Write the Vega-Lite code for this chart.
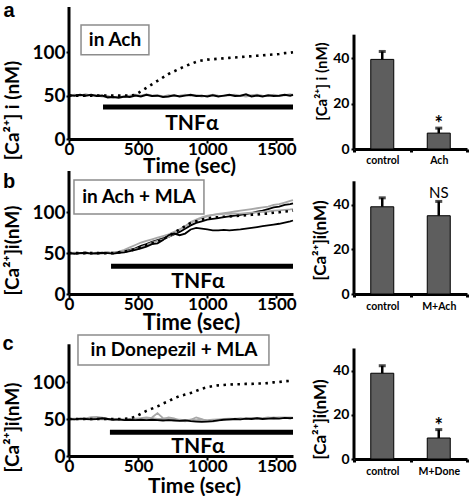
{
  "$schema": "https://vega.github.io/schema/vega-lite/v6.json",
  "background": "white",
  "padding": {"left": 2, "top": 0, "right": 0, "bottom": 0},
  "config": {
    "font": "Lato",
    "view": {"stroke": null},
    "axis": {"grid": false, "labelFont": "Lato", "titleFont": "Lato", "labelFontWeight": "bold", "titleFontWeight": "bold", "labelColor": "black", "titleColor": "black", "tickColor": "black", "domainColor": "black", "labelOverlap": false, "labelFlush": false},
    "text": {"font": "Lato", "fontWeight": "bold", "color": "black"}
  },
  "datasets": {
    "ta": [
      {"t":0,"gr":49.5,"bk":50.5,"dot":50},{"t":40,"gr":51,"bk":50,"dot":50},{"t":80,"gr":50,"bk":51,"dot":50},{"t":120,"gr":51.5,"bk":50,"dot":50},{"t":160,"gr":50,"bk":51,"dot":50},{"t":200,"gr":50.5,"bk":49.5,"dot":50},{"t":240,"gr":49,"bk":50,"dot":50},{"t":280,"gr":49.5,"bk":48,"dot":50},{"t":320,"gr":48,"bk":48.5,"dot":50},{"t":360,"gr":49,"bk":47.5,"dot":50},{"t":400,"gr":48.5,"bk":49,"dot":50},{"t":440,"gr":50,"bk":48.5,"dot":50},{"t":480,"gr":51,"bk":50,"dot":51},{"t":520,"gr":50,"bk":49,"dot":55},{"t":560,"gr":51.5,"bk":51,"dot":59},{"t":600,"gr":50,"bk":49.5,"dot":63},{"t":640,"gr":50.5,"bk":50,"dot":67},{"t":680,"gr":49,"bk":48.5,"dot":71},{"t":720,"gr":50.5,"bk":49,"dot":75},{"t":760,"gr":49.5,"bk":50.5,"dot":78},{"t":800,"gr":50,"bk":49,"dot":81},{"t":840,"gr":51,"bk":50,"dot":84},{"t":880,"gr":50,"bk":51,"dot":86.5},{"t":920,"gr":50.5,"bk":49.5,"dot":89},{"t":960,"gr":49,"bk":50,"dot":90.5},{"t":1000,"gr":50,"bk":49,"dot":91.5},{"t":1040,"gr":51,"bk":50.5,"dot":92},{"t":1080,"gr":50,"bk":49,"dot":92.5},{"t":1120,"gr":49.5,"bk":50,"dot":93},{"t":1160,"gr":50.5,"bk":51,"dot":93.5},{"t":1200,"gr":51,"bk":49.5,"dot":94},{"t":1240,"gr":50,"bk":50,"dot":94.5},{"t":1280,"gr":49,"bk":51.5,"dot":95},{"t":1320,"gr":50.5,"bk":49,"dot":95.5},{"t":1360,"gr":51,"bk":50,"dot":96},{"t":1400,"gr":50,"bk":49,"dot":96.5},{"t":1440,"gr":49.5,"bk":50.5,"dot":97},{"t":1480,"gr":51,"bk":49.5,"dot":97.5},{"t":1520,"gr":50,"bk":50,"dot":98},{"t":1560,"gr":50.5,"bk":51,"dot":99},{"t":1600,"gr":51.5,"bk":50,"dot":99.5},{"t":1620,"gr":50.5,"bk":51,"dot":100}
    ],
    "tb": [
      {"t":0,"lg":50,"mg":50,"dg":50,"bk":50,"dot":50},{"t":40,"lg":50.5,"mg":49.5,"dg":50,"bk":49.5,"dot":50},{"t":80,"lg":50,"mg":50,"dg":49.5,"bk":50,"dot":50},{"t":120,"lg":49.5,"mg":50.5,"dg":50,"bk":50.5,"dot":50},{"t":160,"lg":50,"mg":50,"dg":50.5,"bk":49.5,"dot":50},{"t":200,"lg":50.5,"mg":49.5,"dg":50,"bk":50,"dot":50},{"t":240,"lg":50,"mg":50,"dg":49.5,"bk":50.5,"dot":50},{"t":280,"lg":50.5,"mg":50.5,"dg":50,"bk":50,"dot":50},{"t":320,"lg":51,"mg":50,"dg":50.5,"bk":49.5,"dot":50},{"t":360,"lg":52,"mg":51,"dg":51,"bk":50.5,"dot":51},{"t":400,"lg":54,"mg":52,"dg":52,"bk":51,"dot":52},{"t":440,"lg":57,"mg":54,"dg":53.5,"bk":52.5,"dot":53},{"t":480,"lg":60,"mg":56,"dg":55,"bk":54,"dot":55},{"t":520,"lg":63,"mg":59,"dg":57,"bk":56,"dot":57},{"t":560,"lg":65,"mg":61,"dg":60,"bk":58,"dot":60},{"t":600,"lg":67,"mg":64,"dg":63,"bk":61,"dot":62},{"t":640,"lg":69,"mg":66,"dg":65,"bk":62,"dot":64},{"t":680,"lg":71,"mg":68,"dg":67,"bk":66,"dot":67},{"t":720,"lg":73,"mg":70,"dg":70,"bk":72,"dot":71},{"t":760,"lg":76,"mg":73,"dg":74,"bk":74,"dot":75},{"t":800,"lg":79,"mg":76,"dg":79,"bk":72,"dot":79},{"t":840,"lg":83,"mg":80,"dg":83,"bk":74,"dot":83},{"t":880,"lg":87,"mg":84,"dg":88,"bk":79,"dot":87},{"t":920,"lg":90,"mg":87,"dg":91,"bk":81,"dot":89},{"t":960,"lg":93,"mg":89,"dg":94,"bk":80,"dot":91},{"t":1000,"lg":95,"mg":91,"dg":96,"bk":79,"dot":92.5},{"t":1040,"lg":97,"mg":92,"dg":97,"bk":78,"dot":93.5},{"t":1080,"lg":98,"mg":93,"dg":97.5,"bk":78,"dot":94},{"t":1120,"lg":99,"mg":94,"dg":98,"bk":78.5,"dot":94.5},{"t":1160,"lg":100,"mg":95,"dg":98,"bk":78,"dot":95},{"t":1200,"lg":101,"mg":96,"dg":98.5,"bk":78.5,"dot":95.5},{"t":1240,"lg":102,"mg":97,"dg":98.5,"bk":79,"dot":96},{"t":1280,"lg":103,"mg":98,"dg":99,"bk":80,"dot":96.5},{"t":1320,"lg":104,"mg":99,"dg":99.5,"bk":81,"dot":97},{"t":1360,"lg":105,"mg":101,"dg":100,"bk":82,"dot":97.5},{"t":1400,"lg":106,"mg":102,"dg":100.5,"bk":83,"dot":98},{"t":1440,"lg":107,"mg":104,"dg":101,"bk":84,"dot":98.5},{"t":1480,"lg":109,"mg":106,"dg":102,"bk":85,"dot":99.5},{"t":1520,"lg":110,"mg":107,"dg":102.5,"bk":86,"dot":100},{"t":1560,"lg":112,"mg":109,"dg":103,"bk":87.5,"dot":101},{"t":1600,"lg":114,"mg":110,"dg":103.5,"bk":89,"dot":101.5},{"t":1620,"lg":115,"mg":111,"dg":104,"bk":90,"dot":102}
    ],
    "tc": [
      {"t":0,"lg":50,"dg":49.5,"bk":50,"dot":50},{"t":40,"lg":50.5,"dg":50,"bk":49.5,"dot":50},{"t":80,"lg":50,"dg":49.5,"bk":50.5,"dot":50},{"t":120,"lg":51,"dg":50,"bk":50,"dot":50},{"t":160,"lg":52.5,"dg":50.5,"bk":49.5,"dot":50},{"t":200,"lg":53,"dg":50,"bk":50,"dot":50},{"t":240,"lg":52,"dg":49.5,"bk":51,"dot":50},{"t":280,"lg":50.5,"dg":50,"bk":50,"dot":50},{"t":320,"lg":50,"dg":49.5,"bk":49,"dot":50},{"t":360,"lg":49.5,"dg":49,"bk":49.5,"dot":50},{"t":400,"lg":49,"dg":49.5,"bk":48.5,"dot":50},{"t":440,"lg":50,"dg":50,"bk":49,"dot":51},{"t":480,"lg":50.5,"dg":49.5,"bk":48.5,"dot":53},{"t":520,"lg":51,"dg":50.5,"bk":49,"dot":57},{"t":560,"lg":52,"dg":51,"bk":48.5,"dot":61},{"t":600,"lg":51,"dg":52,"bk":49,"dot":64},{"t":640,"lg":50,"dg":58,"bk":48.5,"dot":67},{"t":680,"lg":50,"dg":51,"bk":48,"dot":71},{"t":720,"lg":52,"dg":50,"bk":48.5,"dot":74},{"t":760,"lg":51,"dg":49.5,"bk":48,"dot":78},{"t":800,"lg":48,"dg":49,"bk":47.5,"dot":81},{"t":840,"lg":47,"dg":48.5,"bk":48,"dot":83},{"t":880,"lg":49,"dg":49,"bk":47,"dot":85},{"t":920,"lg":52,"dg":48.5,"bk":46.5,"dot":88},{"t":960,"lg":50,"dg":49,"bk":46,"dot":91},{"t":1000,"lg":47,"dg":48.5,"bk":46.5,"dot":93},{"t":1040,"lg":46.5,"dg":49,"bk":47,"dot":94.5},{"t":1080,"lg":48,"dg":49.5,"bk":48,"dot":95.5},{"t":1120,"lg":50,"dg":50,"bk":49,"dot":96},{"t":1160,"lg":49,"dg":50.5,"bk":49.5,"dot":96.5},{"t":1200,"lg":50.5,"dg":50,"bk":50,"dot":97},{"t":1240,"lg":49.5,"dg":51,"bk":49.5,"dot":97},{"t":1280,"lg":51,"dg":50,"bk":50.5,"dot":97.5},{"t":1320,"lg":50,"dg":51.5,"bk":50,"dot":97.5},{"t":1360,"lg":51.5,"dg":50.5,"bk":51,"dot":98},{"t":1400,"lg":50.5,"dg":51,"bk":50,"dot":98},{"t":1440,"lg":51,"dg":52,"bk":50.5,"dot":98.5},{"t":1480,"lg":52,"dg":51,"bk":51,"dot":99.5},{"t":1520,"lg":51.5,"dg":52,"bk":50.5,"dot":100},{"t":1560,"lg":52,"dg":51.5,"bk":51.5,"dot":101},{"t":1600,"lg":51.5,"dg":52,"bk":51,"dot":101.5},{"t":1620,"lg":52,"dg":51.5,"bk":51.5,"dot":102}
    ],
    "bars": [
      {"p":"a","g":"control","m":39.5,"e":43,"sig":""},
      {"p":"a","g":"Ach","m":7,"e":9.2,"sig":"*"},
      {"p":"b","g":"control","m":39,"e":43,"sig":""},
      {"p":"b","g":"M+Ach","m":35,"e":41.4,"sig":"NS"},
      {"p":"c","g":"control","m":38.8,"e":42.2,"sig":""},
      {"p":"c","g":"M+Done","m":9.5,"e":13.3,"sig":"*"}
    ]
  },
  "concat": [
    {
      "width": 224, "height": 132,
      "layer": [
        {"data": {"values": [{}]}, "mark": {"type": "rect", "fill": "white", "stroke": "#8c8c8c", "strokeWidth": 1.5},
         "encoding": {"x": {"datum": 87, "type": "quantitative", "scale": {"domain": [0, 1620], "nice": false, "zero": false}}, "x2": {"datum": 578}, "y": {"datum": 131.5, "type": "quantitative", "scale": {"domain": [0, 152.2], "nice": false}}, "y2": {"datum": 97}}},
        {"data": {"name": "ta"}, "transform": [{"fold": ["gr", "bk"], "as": ["s", "v"]}],
         "mark": {"type": "line", "strokeWidth": 2},
         "encoding": {
           "x": {"field": "t", "type": "quantitative", "scale": {"domain": [0, 1620], "nice": false, "zero": false},
                 "axis": {"title": "Time (sec)", "values": [0, 500, 1000, 1500], "format": "d", "labelFontSize": 17, "titleFontSize": 21, "domainWidth": 3, "tickWidth": 2, "tickSize": 4, "labelPadding": -2, "titleX": 120, "titleY": 27, "titleBaseline": "middle"}},
           "y": {"field": "v", "type": "quantitative", "scale": {"domain": [0, 152.2], "nice": false},
                 "axis": {"title": "[Ca²⁺] i (nM)", "values": [0, 50, 100], "labelFontSize": 19, "titleFontSize": 19, "domain": false, "tickWidth": 2, "tickSize": 3, "labelPadding": 1, "titleX": -47, "titleY": 103}},
           "color": {"field": "s", "type": "nominal", "legend": null, "scale": {"domain": ["gr", "bk"], "range": ["#a8a8a8", "#000000"]}}
         }},
        {"data": {"name": "ta"}, "mark": {"type": "line", "strokeWidth": 2.6, "strokeDash": [2.5, 4.5], "color": "black"},
         "encoding": {"x": {"field": "t", "type": "quantitative"}, "y": {"field": "dot", "type": "quantitative"}}},
        {"data": {"values": [{}]}, "mark": {"type": "rule", "strokeWidth": 3, "color": "black"},
         "encoding": {"x": {"datum": 0}, "y": {"datum": 0}, "y2": {"datum": 152.2}}},
        {"data": {"values": [{}]}, "mark": {"type": "rule", "strokeWidth": 5, "color": "black"},
         "encoding": {"x": {"datum": 246}, "x2": {"datum": 1620}, "y": {"datum": 37}}},
        {"data": {"values": [{}]}, "mark": {"type": "text", "fontSize": 21},
         "encoding": {"x": {"datum": 889}, "y": {"datum": 17}, "text": {"value": "TNFα"}}},
        {"data": {"values": [{}]}, "mark": {"type": "text", "fontSize": 19},
         "encoding": {"x": {"datum": 333}, "y": {"datum": 114}, "text": {"value": "in Ach"}}},
        {"data": {"values": [{}]}, "mark": {"type": "text", "fontSize": 20, "font": "Liberation Sans"},
         "encoding": {"x": {"datum": -434}, "y": {"datum": 147.6}, "text": {"value": "a"}}}
      ]
    },
    {
      "width": 113, "height": 142,
      "data": {"name": "bars"},
      "transform": [{"filter": "datum.p == 'a'"}],
      "layer": [
        {"mark": {"type": "bar", "size": 23, "fill": "#5e5e5e", "stroke": "black", "strokeWidth": 1},
         "encoding": {
           "x": {"field": "g", "type": "nominal", "scale": {"domain": ["control", "Ach"], "paddingInner": 0, "paddingOuter": 0},
                 "axis": {"title": null, "labelAngle": 0, "labelFontSize": 10.5, "domainWidth": 3, "tickBand": "extent", "tickSize": 3, "tickWidth": 3, "labelPadding": 3}},
           "y": {"field": "m", "type": "quantitative", "scale": {"domain": [0, 62.6], "nice": false},
                 "axis": {"title": "[Ca²⁺] i (nM)", "values": [0, 10, 20, 30, 40], "labelExpr": "datum.value % 20 == 0 ? datum.label : ''", "labelFontSize": 14, "titleFontSize": 15, "domain": false, "tickSize": 3, "tickWidth": 2, "labelPadding": 2, "titleX": -25, "titleY": 74}}
         }},
        {"mark": {"type": "rule", "strokeWidth": 2.5, "color": "black"},
         "encoding": {"x": {"field": "g", "type": "nominal"}, "y": {"field": "m", "type": "quantitative"}, "y2": {"field": "e"}}},
        {"mark": {"type": "tick", "size": 7, "thickness": 3, "color": "black"},
         "encoding": {"x": {"field": "g", "type": "nominal"}, "y": {"field": "e", "type": "quantitative"}}},
        {"mark": {"type": "text", "fontSize": 20, "baseline": "middle", "dy": -3},
         "encoding": {"x": {"field": "g", "type": "nominal"}, "y": {"field": "e", "type": "quantitative"}, "text": {"field": "sig"}}},
        {"data": {"values": [{}]}, "mark": {"type": "rule", "strokeWidth": 3, "color": "black"},
         "encoding": {"x": {"datum": "control", "type": "nominal", "bandPosition": 0}, "y": {"datum": 0, "type": "quantitative"}, "y2": {"datum": 50.4}}}
      ]
    },
    {
      "width": 224, "height": 123,
      "layer": [
        {"data": {"values": [{}]}, "mark": {"type": "rect", "fill": "white", "stroke": "#8c8c8c", "strokeWidth": 1.5},
         "encoding": {"x": {"datum": 36, "type": "quantitative", "scale": {"domain": [0, 1620], "nice": false, "zero": false}}, "x2": {"datum": 976}, "y": {"datum": 139.5, "type": "quantitative", "scale": {"domain": [0, 150.6], "nice": false}}, "y2": {"datum": 98}}},
        {"data": {"name": "tb"}, "transform": [{"fold": ["lg", "mg", "dg", "bk"], "as": ["s", "v"]}],
         "mark": {"type": "line", "strokeWidth": 1.8},
         "encoding": {
           "x": {"field": "t", "type": "quantitative", "scale": {"domain": [0, 1620], "nice": false, "zero": false},
                 "axis": {"title": "Time (sec)", "values": [0, 500, 1000, 1500], "format": "d", "labelFontSize": 17, "titleFontSize": 22, "domainWidth": 3, "tickWidth": 2, "tickSize": 4, "labelPadding": -2, "titleX": 122, "titleY": 28, "titleBaseline": "middle"}},
           "y": {"field": "v", "type": "quantitative", "scale": {"domain": [0, 150.6], "nice": false},
                 "axis": {"title": "[Ca²⁺]i(nM)", "values": [0, 50, 100], "labelFontSize": 19, "titleFontSize": 19, "domain": false, "tickWidth": 2, "tickSize": 3, "labelPadding": 1, "titleX": -47, "titleY": 79}},
           "color": {"field": "s", "type": "nominal", "legend": null, "scale": {"domain": ["lg", "mg", "dg", "bk"], "range": ["#b8b8b8", "#8a8a8a", "#555555", "#000000"]}}
         }},
        {"data": {"name": "tb"}, "mark": {"type": "line", "strokeWidth": 2.6, "strokeDash": [2.5, 4.5], "color": "black"},
         "encoding": {"x": {"field": "t", "type": "quantitative"}, "y": {"field": "dot", "type": "quantitative"}}},
        {"data": {"values": [{}]}, "mark": {"type": "rule", "strokeWidth": 3, "color": "black"},
         "encoding": {"x": {"datum": 0}, "y": {"datum": 0}, "y2": {"datum": 150.6}}},
        {"data": {"values": [{}]}, "mark": {"type": "rule", "strokeWidth": 5, "color": "black"},
         "encoding": {"x": {"datum": 304}, "x2": {"datum": 1620}, "y": {"datum": 34}}},
        {"data": {"values": [{}]}, "mark": {"type": "text", "fontSize": 21},
         "encoding": {"x": {"datum": 933}, "y": {"datum": 14.7}, "text": {"value": "TNFα"}}},
        {"data": {"values": [{}]}, "mark": {"type": "text", "fontSize": 19},
         "encoding": {"x": {"datum": 506}, "y": {"datum": 118.7}, "text": {"value": "in Ach + MLA"}}},
        {"data": {"values": [{}]}, "mark": {"type": "text", "fontSize": 20, "font": "Liberation Sans"},
         "encoding": {"x": {"datum": -434}, "y": {"datum": 137}, "text": {"value": "b"}}}
      ]
    },
    {
      "width": 113, "height": 123,
      "data": {"name": "bars"},
      "transform": [{"filter": "datum.p == 'b'"}],
      "layer": [
        {"mark": {"type": "bar", "size": 23, "fill": "#5e5e5e", "stroke": "black", "strokeWidth": 1},
         "encoding": {
           "x": {"field": "g", "type": "nominal", "scale": {"domain": ["control", "M+Ach"], "paddingInner": 0, "paddingOuter": 0},
                 "axis": {"title": null, "labelAngle": 0, "labelFontSize": 10.5, "domainWidth": 3, "tickBand": "extent", "tickSize": 3, "tickWidth": 3, "labelPadding": 4}},
           "y": {"field": "m", "type": "quantitative", "scale": {"domain": [0, 55], "nice": false},
                 "axis": {"title": "[Ca²⁺]i(nM)", "values": [0, 10, 20, 30, 40], "labelExpr": "datum.value % 20 == 0 ? datum.label : ''", "labelFontSize": 14, "titleFontSize": 17, "domain": false, "tickSize": 3, "tickWidth": 2, "labelPadding": 2, "titleX": -25, "titleY": 69}}
         }},
        {"mark": {"type": "rule", "strokeWidth": 2.5, "color": "black"},
         "encoding": {"x": {"field": "g", "type": "nominal"}, "y": {"field": "m", "type": "quantitative"}, "y2": {"field": "e"}}},
        {"mark": {"type": "tick", "size": 7, "thickness": 3, "color": "black"},
         "encoding": {"x": {"field": "g", "type": "nominal"}, "y": {"field": "e", "type": "quantitative"}}},
        {"mark": {"type": "text", "fontSize": 15, "fontWeight": "normal", "baseline": "middle", "dy": -8},
         "encoding": {"x": {"field": "g", "type": "nominal"}, "y": {"field": "e", "type": "quantitative"}, "text": {"field": "sig"}}},
        {"data": {"values": [{}]}, "mark": {"type": "rule", "strokeWidth": 3, "color": "black"},
         "encoding": {"x": {"datum": "control", "type": "nominal", "bandPosition": 0}, "y": {"datum": 0, "type": "quantitative"}, "y2": {"datum": 50.4}}}
      ]
    },
    {
      "width": 224, "height": 140,
      "layer": [
        {"data": {"values": [{}]}, "mark": {"type": "rect", "fill": "white", "stroke": "#8c8c8c", "strokeWidth": 1.5},
         "encoding": {"x": {"datum": 65, "type": "quantitative", "scale": {"domain": [0, 1620], "nice": false, "zero": false}}, "x2": {"datum": 1446}, "y": {"datum": 163.5, "type": "quantitative", "scale": {"domain": [0, 189.2], "nice": false}}, "y2": {"datum": 123}}},
        {"data": {"name": "tc"}, "transform": [{"fold": ["lg", "dg", "bk"], "as": ["s", "v"]}],
         "mark": {"type": "line", "strokeWidth": 1.8},
         "encoding": {
           "x": {"field": "t", "type": "quantitative", "scale": {"domain": [0, 1620], "nice": false, "zero": false},
                 "axis": {"title": "Time (sec)", "values": [0, 500, 1000, 1500], "format": "d", "labelFontSize": 17, "titleFontSize": 21, "domainWidth": 3, "tickWidth": 2, "tickSize": 4, "labelPadding": -2, "titleX": 125, "titleY": 30, "titleBaseline": "middle"}},
           "y": {"field": "v", "type": "quantitative", "scale": {"domain": [0, 189.2], "nice": false},
                 "axis": {"title": "[Ca²⁺]i(nM)", "values": [0, 50, 100], "labelFontSize": 19, "titleFontSize": 19, "domain": false, "tickWidth": 2, "tickSize": 3, "labelPadding": 1, "titleX": -47, "titleY": 111}},
           "color": {"field": "s", "type": "nominal", "legend": null, "scale": {"domain": ["lg", "dg", "bk"], "range": ["#c0c0c0", "#666666", "#000000"]}}
         }},
        {"data": {"name": "tc"}, "mark": {"type": "line", "strokeWidth": 2.6, "strokeDash": [2.5, 4.5], "color": "black"},
         "encoding": {"x": {"field": "t", "type": "quantitative"}, "y": {"field": "dot", "type": "quantitative"}}},
        {"data": {"values": [{}]}, "mark": {"type": "rule", "strokeWidth": 3, "color": "black"},
         "encoding": {"x": {"datum": 0}, "y": {"datum": 0}, "y2": {"datum": 151}}},
        {"data": {"values": [{}]}, "mark": {"type": "rule", "strokeWidth": 5, "color": "black"},
         "encoding": {"x": {"datum": 296}, "x2": {"datum": 1620}, "y": {"datum": 32}}},
        {"data": {"values": [{}]}, "mark": {"type": "text", "fontSize": 21},
         "encoding": {"x": {"datum": 933}, "y": {"datum": 12}, "text": {"value": "TNFα"}}},
        {"data": {"values": [{}]}, "mark": {"type": "text", "fontSize": 19},
         "encoding": {"x": {"datum": 759}, "y": {"datum": 143}, "text": {"value": "in Donepezil + MLA"}}},
        {"data": {"values": [{}]}, "mark": {"type": "text", "fontSize": 20, "font": "Liberation Sans"},
         "encoding": {"x": {"datum": -441}, "y": {"datum": 151}, "text": {"value": "c"}}}
      ]
    },
    {
      "width": 113, "height": 143,
      "data": {"name": "bars"},
      "transform": [{"filter": "datum.p == 'c'"}],
      "layer": [
        {"mark": {"type": "bar", "size": 23, "fill": "#5e5e5e", "stroke": "black", "strokeWidth": 1},
         "encoding": {
           "x": {"field": "g", "type": "nominal", "scale": {"domain": ["control", "M+Done"], "paddingInner": 0, "paddingOuter": 0},
                 "axis": {"title": null, "labelAngle": 0, "labelFontSize": 10.5, "domainWidth": 3, "tickBand": "extent", "tickSize": 3, "tickWidth": 3, "labelPadding": 4}},
           "y": {"field": "m", "type": "quantitative", "scale": {"domain": [0, 64.7], "nice": false},
                 "axis": {"title": "[Ca²⁺]i(nM)", "values": [0, 10, 20, 30, 40], "labelExpr": "datum.value % 20 == 0 ? datum.label : ''", "labelFontSize": 14, "titleFontSize": 17, "domain": false, "tickSize": 3, "tickWidth": 2, "labelPadding": 2, "titleX": -25, "titleY": 103}}
         }},
        {"mark": {"type": "rule", "strokeWidth": 2.5, "color": "black"},
         "encoding": {"x": {"field": "g", "type": "nominal"}, "y": {"field": "m", "type": "quantitative"}, "y2": {"field": "e"}}},
        {"mark": {"type": "tick", "size": 7, "thickness": 3, "color": "black"},
         "encoding": {"x": {"field": "g", "type": "nominal"}, "y": {"field": "e", "type": "quantitative"}}},
        {"mark": {"type": "text", "fontSize": 20, "baseline": "middle", "dy": -3},
         "encoding": {"x": {"field": "g", "type": "nominal"}, "y": {"field": "e", "type": "quantitative"}, "text": {"field": "sig"}}},
        {"data": {"values": [{}]}, "mark": {"type": "rule", "strokeWidth": 3, "color": "black"},
         "encoding": {"x": {"datum": "control", "type": "nominal", "bandPosition": 0}, "y": {"datum": 0, "type": "quantitative"}, "y2": {"datum": 50}}}
      ]
    }
  ],
  "columns": 2,
  "bounds": "flush",
  "align": "each",
  "spacing": {"row": 22, "column": 61}
}
